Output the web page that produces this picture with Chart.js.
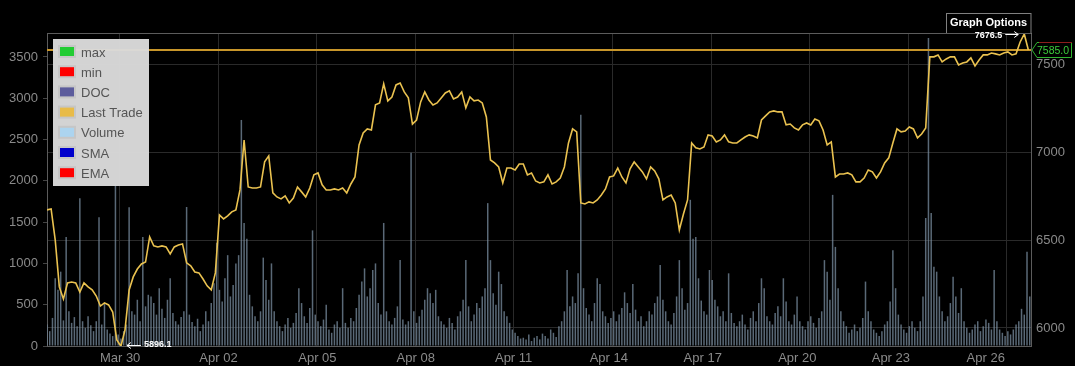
<!DOCTYPE html>
<html><head><meta charset="utf-8">
<script src="https://cdn.jsdelivr.net/npm/chart.js@4.4.1/dist/chart.umd.min.js"></script>
<style>html,body{margin:0;padding:0;background:#000;overflow:hidden}canvas{display:block}</style>
</head><body>
<canvas id="c" width="1075" height="366"></canvas>
<script>
// ---- data (x in days after Mar 27 00:00) ----
const startDay = 0.785;
const priceStepDays = 0.125;      // 3-hour samples
const volumeStepDays = 1 / 12;    // 2-hour buckets
const xMinDay = 0.785;
const xMaxDay = 30.74;

const tickLabels = ['Mar 30', 'Apr 02', 'Apr 05', 'Apr 08', 'Apr 11', 'Apr 14', 'Apr 17', 'Apr 20', 'Apr 23', 'Apr 26'];
const tickLabelDays = [3.011, 6.006, 9.016, 12.01, 14.99, 17.888, 20.746, 23.625, 26.474, 29.363];
const gridDays = [3, 6, 9, 12, 15, 18, 21, 24, 27, 30];
const volumeTicks = [0, 500, 1000, 1500, 2000, 2500, 3000, 3500];
const priceTicks = [6000, 6500, 7000, 7500];

const lastTrade = [
  6673, 6679, 6502, 6234, 6165, 6257, 6262, 6257, 6205, 6257, 6234, 6217,
  6182, 6125, 6143, 6131, 6091, 5932, 5896.1, 5989, 6217, 6291, 6336, 6365,
  6376, 6519, 6468, 6462, 6468, 6462, 6422, 6462, 6473, 6479, 6371, 6354,
  6319, 6314, 6279, 6240, 6217, 6314, 6644, 6622, 6639, 6662, 6673, 6787,
  7072, 6804, 6798, 6798, 6804, 6947, 6981, 6770, 6747, 6736, 6753, 6713,
  6741, 6804, 6776, 6747, 6798, 6873, 6884, 6816, 6787, 6787, 6793, 6787,
  6798, 6770, 6821, 6861, 7044, 7112, 7135, 7129, 7272, 7283, 7392, 7295,
  7317, 7386, 7397, 7346, 7312, 7163, 7186, 7289, 7346, 7300, 7272, 7283,
  7312, 7340, 7352, 7306, 7317, 7346, 7255, 7317, 7295, 7300, 7283, 7203,
  6958, 6941, 6918, 6827, 6912, 6912, 6901, 6935, 6935, 6873, 6884, 6838,
  6827, 6833, 6873, 6821, 6833, 6855, 6918, 7055, 7135, 7118, 6713, 6707,
  6719, 6713, 6730, 6758, 6793, 6861, 6867, 6912, 6861, 6827, 6907, 6947,
  6918, 6890, 6850, 6918, 6895, 6850, 6730, 6747, 6758, 6713, 6559, 6650,
  6730, 7055, 7027, 7021, 7032, 7101, 7095, 7061, 7072, 7101, 7061, 7055,
  7055, 7072, 7089, 7101, 7095, 7084, 7186, 7209, 7232, 7238, 7232, 7232,
  7158, 7163, 7141, 7129, 7158, 7169, 7158, 7192, 7181, 7129, 7044, 7061,
  6861, 6878, 6878, 6884, 6873, 6833, 6833, 6855, 6901, 6890, 6855, 6890,
  6941, 6970, 7055, 7135, 7118, 7123, 7146, 7135, 7084, 7106, 7141, 7546,
  7546, 7557, 7517, 7534, 7546, 7546, 7500, 7511, 7517, 7540, 7494, 7528,
  7557, 7557, 7568, 7563, 7557, 7568, 7574, 7557, 7563, 7631, 7676.5, 7585
];

const volume = [
  260, 180, 340, 820, 680, 900, 310, 1320, 420, 280, 350, 240,
  1790, 300, 220, 360, 250, 180, 300, 1560, 260, 520, 200, 150,
  120, 1970, 140, 90, 180, 260, 1680, 420, 380, 560, 300, 1320,
  480, 620, 600, 520, 380, 700, 450, 340, 560, 820, 400, 300,
  260, 350, 420, 1683, 380, 290, 240, 330, 180, 260, 420, 300,
  520, 760, 1250, 680, 540, 820, 1100, 600, 740, 1000, 1100, 2737,
  1490, 1300, 620, 480, 360, 300, 420, 1070, 800, 560, 1000, 420,
  300, 240, 180, 260, 340, 220, 280, 400, 700, 520, 360, 280,
  460, 1400, 380, 300, 240, 320, 500, 200, 160, 260, 300, 220,
  700, 280, 220, 340, 300, 460, 620, 780, 940, 600, 700, 920,
  1000, 520, 380, 1490, 420, 300, 260, 340, 480, 1040, 320, 260,
  300, 2340, 420, 280, 360, 440, 560, 700, 640, 520, 680, 360,
  300, 260, 220, 340, 280, 200, 360, 420, 560, 1040, 480, 300,
  380, 520, 460, 600, 700, 1730, 1040, 640, 500, 900, 750, 420,
  360, 280, 200, 160, 120, 90, 100, 80, 140, 60, 100, 120,
  80, 150, 120, 90, 200, 160, 110, 240, 300, 420, 920, 480,
  600, 520, 880, 2800, 700, 460, 380, 300, 520, 820, 750, 420,
  360, 280, 340, 420, 300, 380, 460, 650, 520, 400, 750, 440,
  300, 360, 240, 300, 420, 380, 520, 600, 980, 560, 420, 300,
  260, 400, 600, 1040, 700, 440, 520, 1770, 1300, 1320, 820, 550,
  420, 380, 920, 800, 560, 480, 360, 420, 300, 880, 400, 280,
  240, 300, 380, 260, 200, 340, 420, 300, 520, 820, 700, 360,
  300, 260, 400, 480, 360, 820, 540, 300, 260, 380, 600, 300,
  240, 200, 300, 360, 280, 220, 340, 420, 1040, 900, 560, 1830,
  1200, 700, 420, 300, 240, 160, 200, 260, 180, 220, 340, 780,
  420, 300, 200, 160, 120, 180, 260, 300, 540, 1160, 700, 380,
  260, 200, 160, 240, 300, 220, 180, 300, 600, 1550, 3730, 1610,
  960, 900, 600, 420, 300, 360, 520, 840, 600, 400, 700, 300,
  220, 160, 200, 260, 300, 180, 240, 320, 280, 200, 920, 300,
  200, 160, 120, 180, 140, 200, 260, 300, 450, 380, 1140, 600
];

const lastPrice = 7585.0;
const legendLabels = ['max', 'min', 'DOC', 'Last Trade', 'Volume', 'SMA', 'EMA'];
const legendColors = ['#22cc33', '#ff0000', '#5c5c9c', '#e8bb48', '#acd4ef', '#0000cc', '#ff0000'];

// ---- chart ----
const FONT = "'Liberation Sans', Arial, sans-serif";
const AXIS_TEXT = '#8a8a8a';
const GRID = '#2a2a2a';
const BORDER = '#5c5c5c';

const pricePoints = lastTrade.map((v, i) => ({ x: startDay + i * priceStepDays, y: v }));
const volumePoints = volume.map((v, i) => ({ x: startDay + i * volumeStepDays, y: v }));

function arrow(ctx, x1, y, x2) {
  const dir = x2 > x1 ? 1 : -1;
  ctx.beginPath();
  ctx.moveTo(x1, y); ctx.lineTo(x2, y);
  ctx.moveTo(x2 - dir * 4, y - 3); ctx.lineTo(x2, y); ctx.lineTo(x2 - dir * 4, y + 3);
  ctx.stroke();
}

const overlay = {
  id: 'overlay',
  afterDraw(chart) {
    const ctx = chart.ctx;
    const a = chart.chartArea;
    const xs = chart.scales.x, yR = chart.scales.yR;
    ctx.save();
    // Graph Options box (sits on top border of plot)
    ctx.fillStyle = '#000';
    ctx.fillRect(946, 13, 85, 20);
    ctx.strokeStyle = '#808080'; ctx.lineWidth = 1;
    ctx.strokeRect(946.5, 13.5, 84.5, 20);
    ctx.fillStyle = '#ffffff';
    ctx.font = 'bold 11px ' + FONT;
    ctx.textAlign = 'center'; ctx.textBaseline = 'middle';
    ctx.fillText('Graph Options', 988.5, 23);

    // top border of plot
    ctx.strokeStyle = BORDER;
    ctx.beginPath(); ctx.moveTo(a.left, Math.round(a.top) + 0.5); ctx.lineTo(a.right, Math.round(a.top) + 0.5); ctx.stroke();

    // legend box
    ctx.fillStyle = 'rgba(218,218,218,0.97)';
    ctx.fillRect(53, 39, 96, 147);
    ctx.font = '13px ' + FONT;
    ctx.textAlign = 'left';
    legendLabels.forEach((lab, k) => {
      const cy = 52 + k * 20.2;
      ctx.fillStyle = '#c6c6c6';
      ctx.fillRect(58, cy - 7, 18, 13);
      ctx.fillStyle = legendColors[k];
      ctx.fillRect(60, cy - 5, 14, 9);
      ctx.fillStyle = '#555555';
      ctx.fillText(lab, 81, cy + 1);
    });

    // min / max annotations
    let iMin = 0, iMax = 0;
    lastTrade.forEach((v, i) => { if (v < lastTrade[iMin]) iMin = i; if (v > lastTrade[iMax]) iMax = i; });
    ctx.strokeStyle = '#ffffff'; ctx.fillStyle = '#ffffff'; ctx.lineWidth = 1;
    ctx.font = 'bold 9px ' + FONT;
    const mnx = xs.getPixelForValue(pricePoints[iMin].x), mny = Math.min(yR.getPixelForValue(lastTrade[iMin]), a.bottom - 1);
    arrow(ctx, mnx + 20, Math.round(mny) + 0.5, mnx + 6);
    ctx.textAlign = 'left';
    ctx.fillText(lastTrade[iMin].toFixed(1), mnx + 23, mny);
    const mxx = xs.getPixelForValue(pricePoints[iMax].x), mxy = yR.getPixelForValue(lastTrade[iMax]);
    arrow(ctx, mxx - 19, Math.round(mxy) + 0.5, mxx - 6);
    ctx.textAlign = 'right';
    ctx.fillText(lastTrade[iMax].toFixed(1), mxx - 22, mxy + 1.5);

    // last price tag on right axis
    const py = yR.getPixelForValue(lastPrice);
    ctx.beginPath();
    ctx.moveTo(a.right + 1, py);
    ctx.lineTo(a.right + 6, py - 7.5);
    ctx.lineTo(1071.5, py - 7.5);
    ctx.lineTo(1071.5, py + 7.5);
    ctx.lineTo(a.right + 6, py + 7.5);
    ctx.closePath();
    ctx.fillStyle = '#000'; ctx.fill();
    ctx.strokeStyle = '#2fb52f'; ctx.stroke();
    ctx.strokeStyle = '#8c1c1c';
    ctx.beginPath(); ctx.moveTo(a.right + 8, Math.round(py - 8.5) + 0.5); ctx.lineTo(1072, Math.round(py - 8.5) + 0.5); ctx.stroke();
    ctx.fillStyle = '#3ccc3c';
    ctx.font = '10.5px ' + FONT;
    ctx.textAlign = 'left';
    ctx.fillText(lastPrice.toFixed(1), a.right + 6, py + 1);
    ctx.restore();
  }
};

const plain = v => String(v);

new Chart(document.getElementById('c'), {
  type: 'line',
  data: {
    datasets: [
      {
        type: 'line', label: 'Last Trade', data: pricePoints, xAxisID: 'x', yAxisID: 'yR',
        borderColor: '#eac250', borderWidth: 1.6, pointRadius: 0, tension: 0, fill: false
      },
      {
        type: 'line', label: 'Last Price', data: [{ x: xMinDay, y: lastPrice }, { x: xMaxDay, y: lastPrice }],
        xAxisID: 'x', yAxisID: 'yR', borderColor: '#c8962a', borderWidth: 2, pointRadius: 0, fill: false
      },
      {
        type: 'bar', label: 'Volume', data: volumePoints, xAxisID: 'x', yAxisID: 'yL',
        backgroundColor: 'rgba(125,145,165,0.72)', borderWidth: 0,
        barPercentage: 0.55, categoryPercentage: 1, grouped: false
      }
    ]
  },
  options: {
    responsive: false, animation: false, devicePixelRatio: 1,
    layout: { padding: { top: 33, left: 0, right: 0, bottom: 0 } },
    plugins: { legend: { display: false }, tooltip: { enabled: false } },
    scales: {
      x: {
        type: 'linear', position: 'bottom', min: xMinDay, max: xMaxDay, bounds: 'data', offset: false,
        afterBuildTicks: s => { s.ticks = gridDays.map(v => ({ value: v })); },
        ticks: { display: false },
        grid: { color: GRID, drawTicks: false, offset: false },
        border: { display: true, color: BORDER },
        afterFit: s => { s.height = 0; }
      },
      xLabels: {
        type: 'linear', position: 'bottom', min: xMinDay, max: xMaxDay, bounds: 'data', offset: false,
        afterBuildTicks: s => { s.ticks = tickLabelDays.map(v => ({ value: v })); },
        ticks: {
          color: AXIS_TEXT, font: { family: FONT, size: 13 }, padding: 5, maxRotation: 0, autoSkip: false,
          callback: (v, i) => tickLabels[i]
        },
        grid: { display: false, drawTicks: false },
        border: { display: false },
        afterFit: s => { s.height = 20; }
      },
      yL: {
        type: 'linear', position: 'left', min: 0, max: 3790, bounds: 'data',
        afterBuildTicks: s => { s.ticks = volumeTicks.map(v => ({ value: v })); },
        ticks: { color: AXIS_TEXT, font: { family: FONT, size: 13 }, padding: 5, callback: plain },
        grid: { drawOnChartArea: false, drawTicks: true, tickLength: 4, tickColor: '#444' },
        border: { display: true, color: BORDER },
        afterFit: s => { s.width = 47; }
      },
      yR: {
        type: 'linear', position: 'right', min: 5897, max: 7682, bounds: 'data',
        afterBuildTicks: s => { s.ticks = priceTicks.map(v => ({ value: v })); },
        ticks: { color: AXIS_TEXT, font: { family: FONT, size: 13 }, padding: 5, callback: plain },
        grid: { color: GRID, drawTicks: false },
        border: { display: true, color: BORDER },
        afterFit: s => { s.width = 44; }
      }
    }
  },
  plugins: [overlay]
});
</script>
</body></html>
